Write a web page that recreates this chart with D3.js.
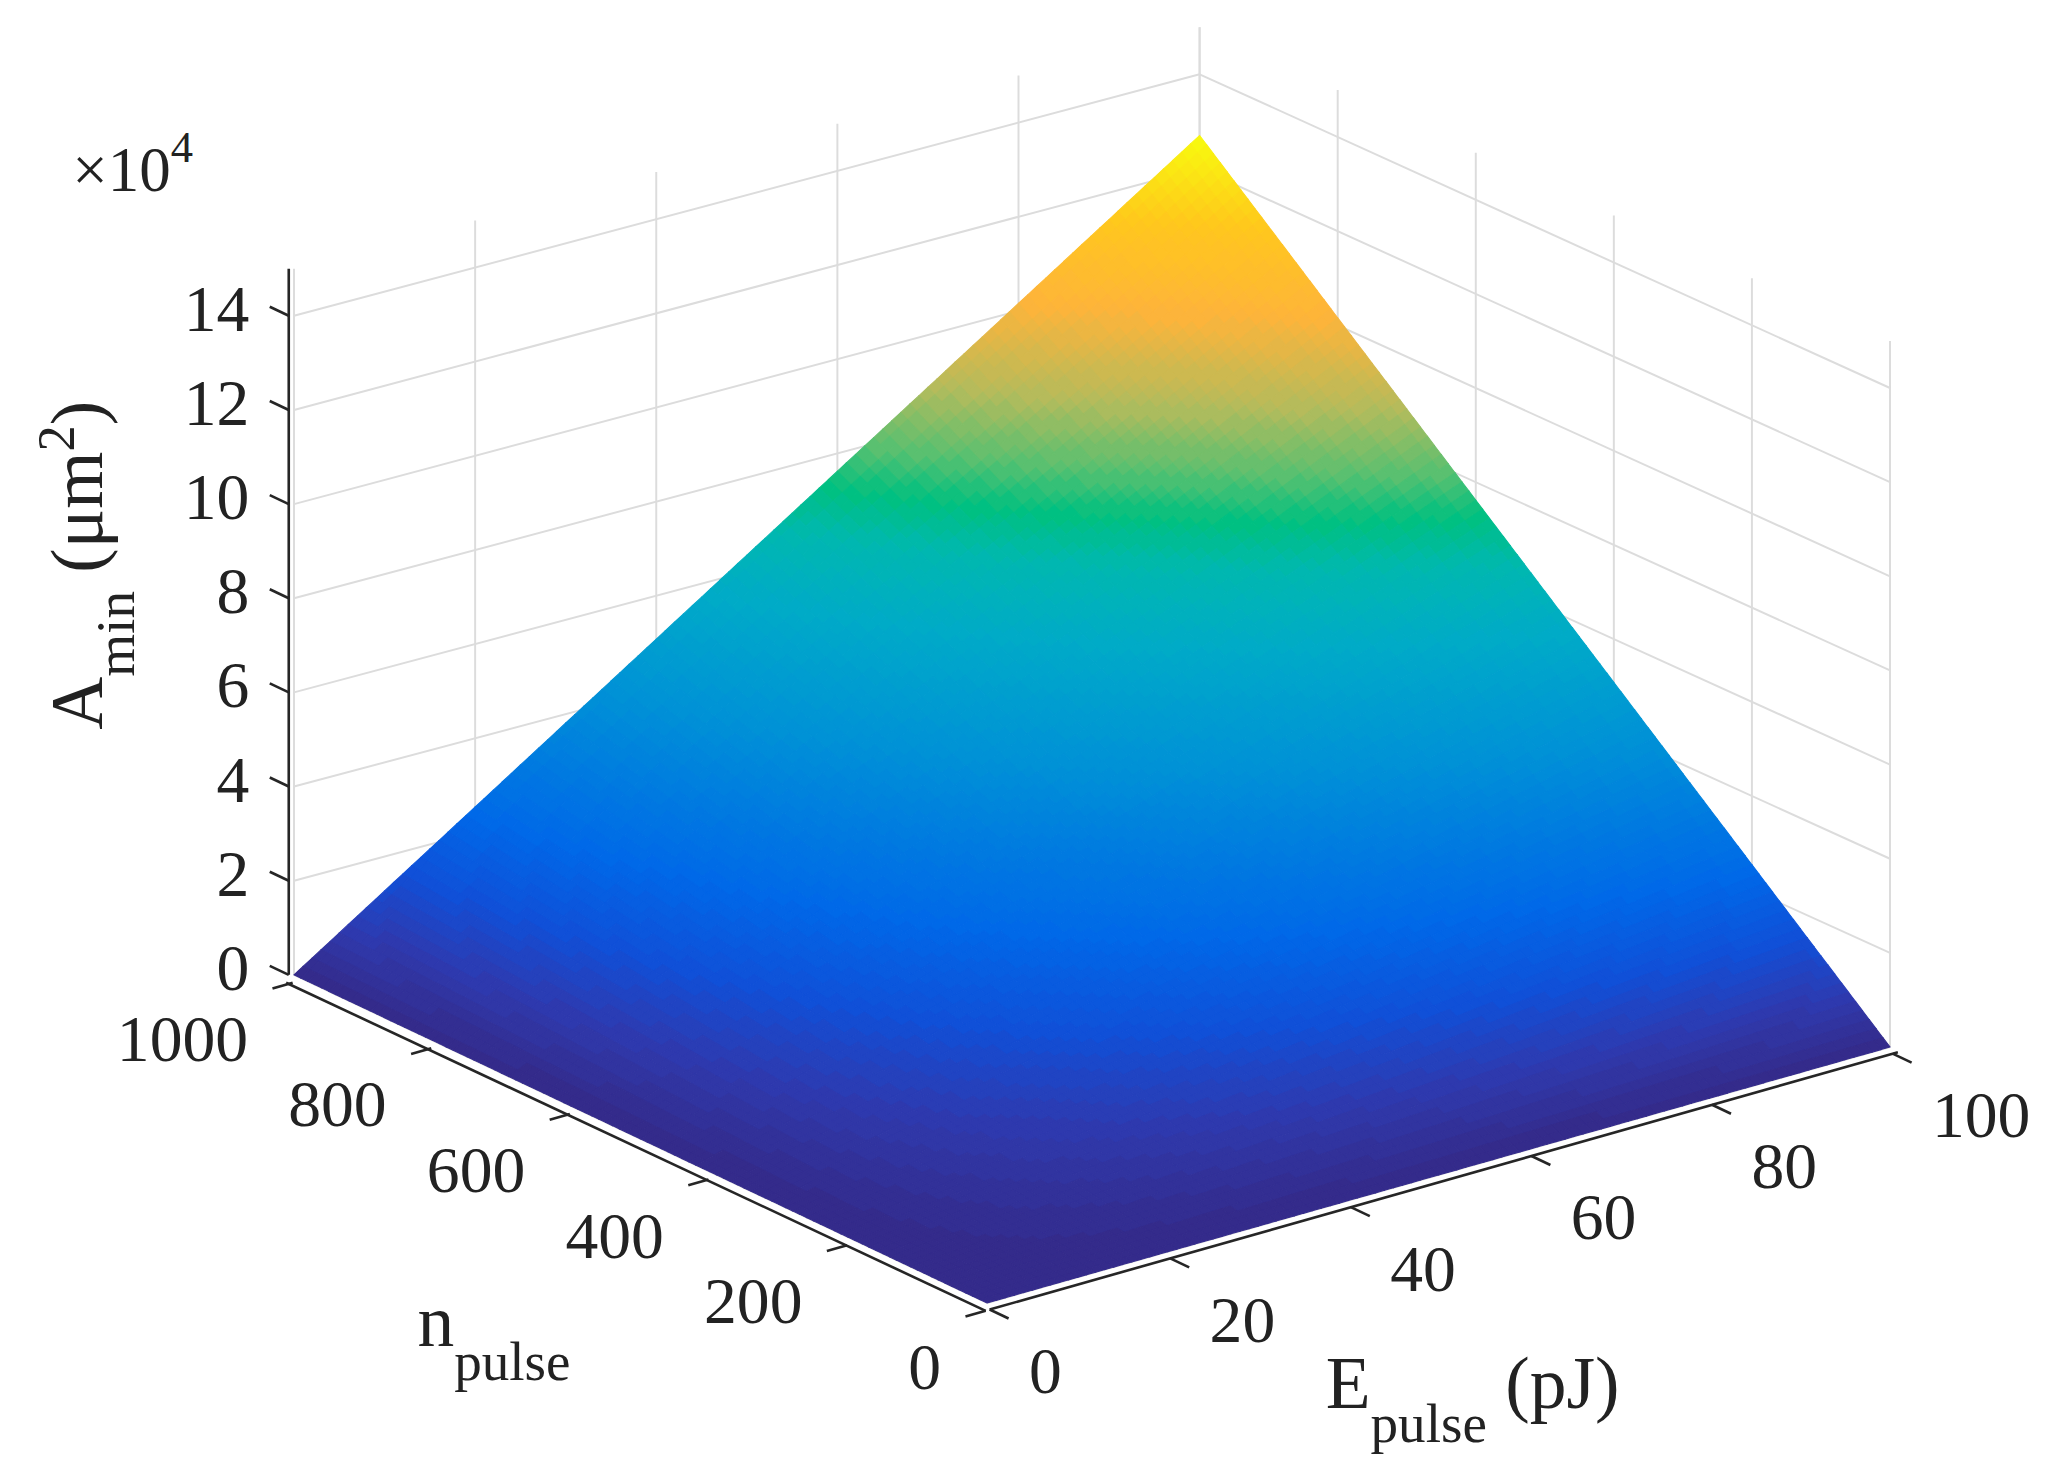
<!DOCTYPE html>
<html><head><meta charset="utf-8">
<script src="https://cdn.jsdelivr.net/npm/d3@7"></script>
<style>body{margin:0;background:#fff}text{font-family:"Liberation Serif","Times New Roman",serif;fill:#222}</style>
</head><body>
<svg width="2058" height="1468" viewBox="0 0 1568 1117"></svg>
<script>
// axis ticks
const eTicks=[0,20,40,60,80,100];
const nTicks=[0,200,400,600,800,1000];
const zTicks=[0,2,4,6,8,10,12,14];
// surface corner values (x1e4 um^2): [E=0|E=100] x [n=0|n=1000]
const aCorners=[[0,0],[0,12.7]];
// colormap stops (fraction of max, colour)
const cStops=[0,0.06,0.12,0.19,0.34,0.45,0.53,0.58,0.63,0.7,0.8,0.9,1];
const cCols=["#352a87","#2e3ab0","#1050d8","#0068e8","#0092d6","#00aac8","#00b8b0","#00c080","#5ac070","#b4bb5c","#feb43a","#ffc81c","#f8fa0e"];

const svg=d3.select('svg');
const eS=d3.scaleLinear().domain([0,100]).range([0,1]);
const nS=d3.scaleLinear().domain([0,1000]).range([0,1]);
const zS=d3.scaleLinear().domain([0,15]).range([0,-538]);
// floor corners: front (E0,n0), right (E100,n0), left (E0,n1000), back (E100,n1000)
const cF=[752,992],cR=[1440,797],cL=[224,742],cB=[914,558];
function P(e,n,z){
  const u=eS(e),v=nS(n);
  const x=cF[0]*(1-u)*(1-v)+cR[0]*u*(1-v)+cL[0]*(1-u)*v+cB[0]*u*v;
  const y=cF[1]*(1-u)*(1-v)+cR[1]*u*(1-v)+cL[1]*(1-u)*v+cB[1]*u*v;
  return [x,y+zS(z)];
}
const line=d3.line();
const gridC="#dcdcdc";
const g=svg.append('g');
function seg(a,b,col,w){g.append('path').attr('d',line([a,b])).attr('stroke',col).attr('stroke-width',w).attr('fill','none');}

// back walls grid
eTicks.forEach(e=>seg(P(e,1000,0),P(e,1000,15),gridC,1.5));
nTicks.forEach(n=>seg(P(100,n,0),P(100,n,15),gridC,1.5));
zTicks.forEach(z=>{seg(P(0,1000,z),P(100,1000,z),gridC,1.5);seg(P(100,1000,z),P(100,0,z),gridC,1.5);});
// floor grid
eTicks.forEach(e=>seg(P(e,0,0),P(e,1000,0),gridC,1.5));
nTicks.forEach(n=>seg(P(0,n,0),P(100,n,0),gridC,1.5));

// surface
const zMax=aCorners[1][1];
const color=d3.scaleLinear().domain(cStops.map(s=>s*zMax)).range(cCols);
function A(e,n){const u=eS(e),v=nS(n);
  return aCorners[0][0]*(1-u)*(1-v)+aCorners[1][0]*u*(1-v)+aCorners[0][1]*(1-u)*v+aCorners[1][1]*u*v;}
const N=100,quads=[];
for(let i=0;i<N;i++)for(let j=0;j<N;j++){
  const e0=100*i/N,e1=100*(i+1)/N,n0=1000*j/N,n1=1000*(j+1)/N;
  const zc=A((e0+e1)/2,(n0+n1)/2);
  const lev=Math.min(95,Math.floor(zc/zMax*96));
  quads.push({pts:[P(e0,n0,A(e0,n0)),P(e1,n0,A(e1,n0)),P(e1,n1,A(e1,n1)),P(e0,n1,A(e0,n1))],
    col:color((lev+0.5)/96*zMax),d:i+j});
}
quads.sort((a,b)=>b.d-a.d);
g.selectAll('path.q').data(quads).enter().append('path').attr('class','q')
  .attr('d',d=>line(d.pts)+'Z').attr('fill',d=>d.col).attr('stroke',d=>d.col).attr('stroke-width',0.8);

// axes
const ax='#262626';
const off=(p,dx,dy)=>[p[0]+dx,p[1]+dy];
seg(off(P(0,0,0),-3,4),off(P(0,1000,0),-6,3),'#fff',3);
seg(off(P(0,0,0),-1,6),off(P(0,1000,0),-6,6),ax,2);
seg(off(P(0,0,0),2,5),off(P(100,0,0),6,4),ax,2);
seg(off(P(0,1000,0),-4,0),off(P(0,1000,15),-4,0),ax,2);
const tl=16;
const eV=[cR[0]-cF[0],cR[1]-cF[1]],nV=[cL[0]-cF[0],cL[1]-cF[1]];
const nd=[-eV[0],-eV[1]],nl=Math.hypot(...nd);
nTicks.forEach(n=>{const p=off(P(0,n,0),-1,6);seg(p,[p[0]+nd[0]/nl*tl,p[1]+nd[1]/nl*tl],ax,2);
  g.append('text').attr('x',p[0]-34).attr('y',p[1]+42).attr('dy','0.35em').attr('text-anchor','end').attr('font-size',50).text(n);});
const ed=[-nV[0],-nV[1]],el=Math.hypot(...ed);
eTicks.forEach(e=>{const p=off(P(e,0,0),2,5);seg(p,[p[0]+ed[0]/el*tl,p[1]+ed[1]/el*tl],ax,2);
  g.append('text').attr('x',p[0]+30).attr('y',p[1]+46).attr('dy','0.35em').attr('text-anchor','start').attr('font-size',50).text(e);});
const zd=[nV[0],nV[1]],zl=Math.hypot(...zd);
zTicks.forEach(z=>{const p=off(P(0,1000,z),-4,0);seg(p,[p[0]+zd[0]/zl*tl,p[1]+zd[1]/zl*tl],ax,2);
  g.append('text').attr('x',p[0]-30).attr('y',p[1]-6).attr('dy','0.35em').attr('text-anchor','end').attr('font-size',50).text(z);});

// labels
const t1=svg.append('text').attr('x',55).attr('y',145).attr('font-size',48);
t1.append('tspan').text('×10');t1.append('tspan').attr('dy',-22).attr('font-size',34).text('4');
const zl2=svg.append('text').attr('transform','translate(78,430) rotate(-90)').attr('text-anchor','middle').attr('font-size',56);
zl2.append('tspan').text('A');zl2.append('tspan').attr('dy',24).attr('font-size',42).text('min');
zl2.append('tspan').attr('dy',-24).text(' (μm');zl2.append('tspan').attr('dy',-22).attr('font-size',40).text('2');
zl2.append('tspan').attr('dy',22).text(')');
const nl2=svg.append('text').attr('x',318).attr('y',1025).attr('font-size',56);
nl2.append('tspan').text('n');nl2.append('tspan').attr('dy',26).attr('font-size',42).text('pulse');
const el2=svg.append('text').attr('x',1010).attr('y',1072).attr('font-size',56);
el2.append('tspan').text('E');el2.append('tspan').attr('dy',26).attr('font-size',42).text('pulse');
el2.append('tspan').attr('dy',-26).text(' (pJ)');
</script>
</body></html>
